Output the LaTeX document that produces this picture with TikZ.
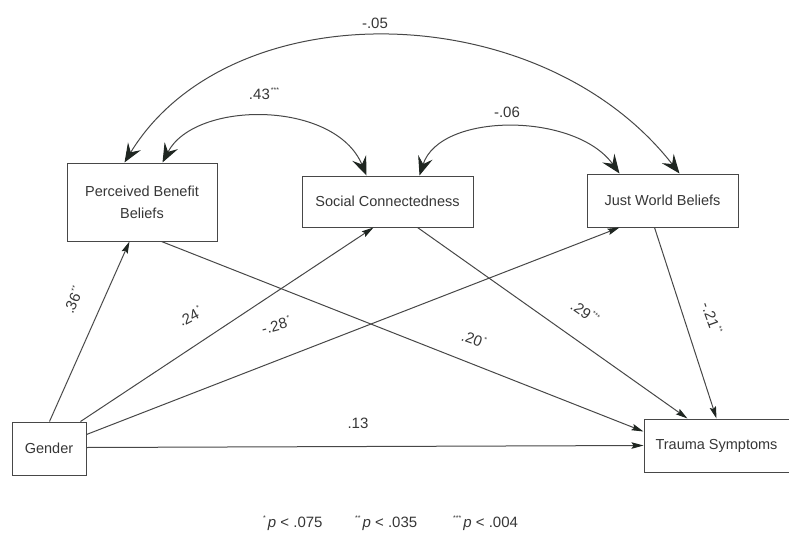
\documentclass[tikz,border=0pt]{standalone}
\usepackage{fontspec}
\setmainfont{Liberation Sans}
\usetikzlibrary{arrows.meta,calc}
\definecolor{ln}{HTML}{474747}
\definecolor{tx}{HTML}{363636}
\definecolor{hd}{HTML}{1F2621}
\newcommand{\sig}[1]{\kern1pt\raisebox{7pt}{\fontsize{7}{7}\selectfont #1}}
\begin{document}
\begin{tikzpicture}[x=1pt,y=-1pt,
  box/.style={draw=ln,line width=1pt,inner sep=0pt,align=center,text=tx,
    font=\fontsize{14.5}{22}\selectfont},
  path/.style={draw=ln,line width=1pt,-{Stealth[length=12pt,width=6.5pt,inset=2pt,color=hd]}},
  corr/.style={draw=ln,line width=1pt,
    {Stealth[length=19pt,width=15pt,inset=7pt,color=hd]}-{Stealth[length=19pt,width=15pt,inset=7pt,color=hd]}},
  coef/.style={text=tx,font=\fontsize{15}{18}\selectfont,inner sep=1pt},
  note/.style={text=tx,font=\fontsize{15}{18}\selectfont,inner sep=0pt}]
\useasboundingbox (0,0) rectangle (789,535);

% boxes
\node[box,minimum width=150pt,minimum height=78pt] (pbb) at (142,202) {Perceived Benefit\\Beliefs};
\node[box,minimum width=171pt,minimum height=51pt] (sc) at (387.5,201.5) {Social Connectedness};
\node[box,minimum width=151pt,minimum height=53pt] (jwb) at (662.5,200.5) {Just World Beliefs};
\node[box,minimum width=74pt,minimum height=53pt] (gen) at (49,448.5) {Gender};
\node[box,minimum width=145pt,minimum height=53pt] (tra) at (716.5,445.5) {Trauma Symptoms};

% anchor points
\coordinate (pbbA) at ($(pbb.north west)+(58,0)$);
\coordinate (pbbB) at ($(pbb.north west)+(96,0)$);
\coordinate (scA) at ($(sc.north west)+(65,0)$);
\coordinate (scB) at ($(sc.north west)+(118,0)$);
\coordinate (jwbA) at ($(jwb.north west)+(33,0)$);
\coordinate (jwbB) at ($(jwb.north west)+(93,0)$);

% correlations
\draw[corr] (pbbA) .. controls (230,-10) and (540,-5) .. (jwbB);
\draw[corr] (pbbB) .. controls (195,100) and (335,100) .. (scA);
\draw[corr] (scB) .. controls (440,112) and (575,112) .. (jwbA);

% paths from gender
\draw[path] ($(gen.north west)+(38,0)$) -- ($(pbb.south west)+(63,0)$);
\draw[path] ($(gen.north west)+(69,0)$) -- ($(sc.south west)+(72,0)$);
\draw[path] ($(gen.north east)+(0,13)$) -- ($(jwb.south west)+(33,0)$);
\draw[path] ($(gen.north east)+(0,26)$) -- ($(tra.north west)+(0,27)$);

% paths to trauma
\draw[path] ($(pbb.south west)+(95,0)$) -- ($(tra.north west)+(0,13)$);
\draw[path] ($(sc.south west)+(116,0)$) -- ($(tra.north west)+(44,0)$);
\draw[path] ($(jwb.south west)+(68,0)$) -- ($(tra.north west)+(73,0)$);

% coefficients
\node[coef] (c05) at (375,23) {-.05};
\node[coef] (c43) at (264,94) {.43\sig{***}};
\node[coef] (c06) at (507,112) {-.06};
\node[coef,rotate=66] (c36) at (73,300) {.36\sig{**}};
\node[coef,rotate=28] (c24) at (190,316) {.24\sig{*}};
\node[coef,rotate=15] (c28) at (276,325) {-.28\sig{*}};
\node[coef] (c13) at (358,423) {.13};
\node[coef,rotate=-20] (c20) at (474,339) {.20\sig{*}};
\node[coef,rotate=-35] (c29) at (585,312) {.29\sig{***}};
\node[coef,rotate=-70] (c21) at (712,318) {-.21\sig{**}};

% footnote
\node[note,anchor=base west] (n1) at (262,527) {\sig{*}\kern2pt\textit{p} < .075};
\node[note,anchor=base west] (n2) at (354,527) {\sig{**}\kern2pt\textit{p} < .035};
\node[note,anchor=base west] (n3) at (452,527) {\sig{***}\kern2pt\textit{p} < .004};
\end{tikzpicture}
\end{document}
